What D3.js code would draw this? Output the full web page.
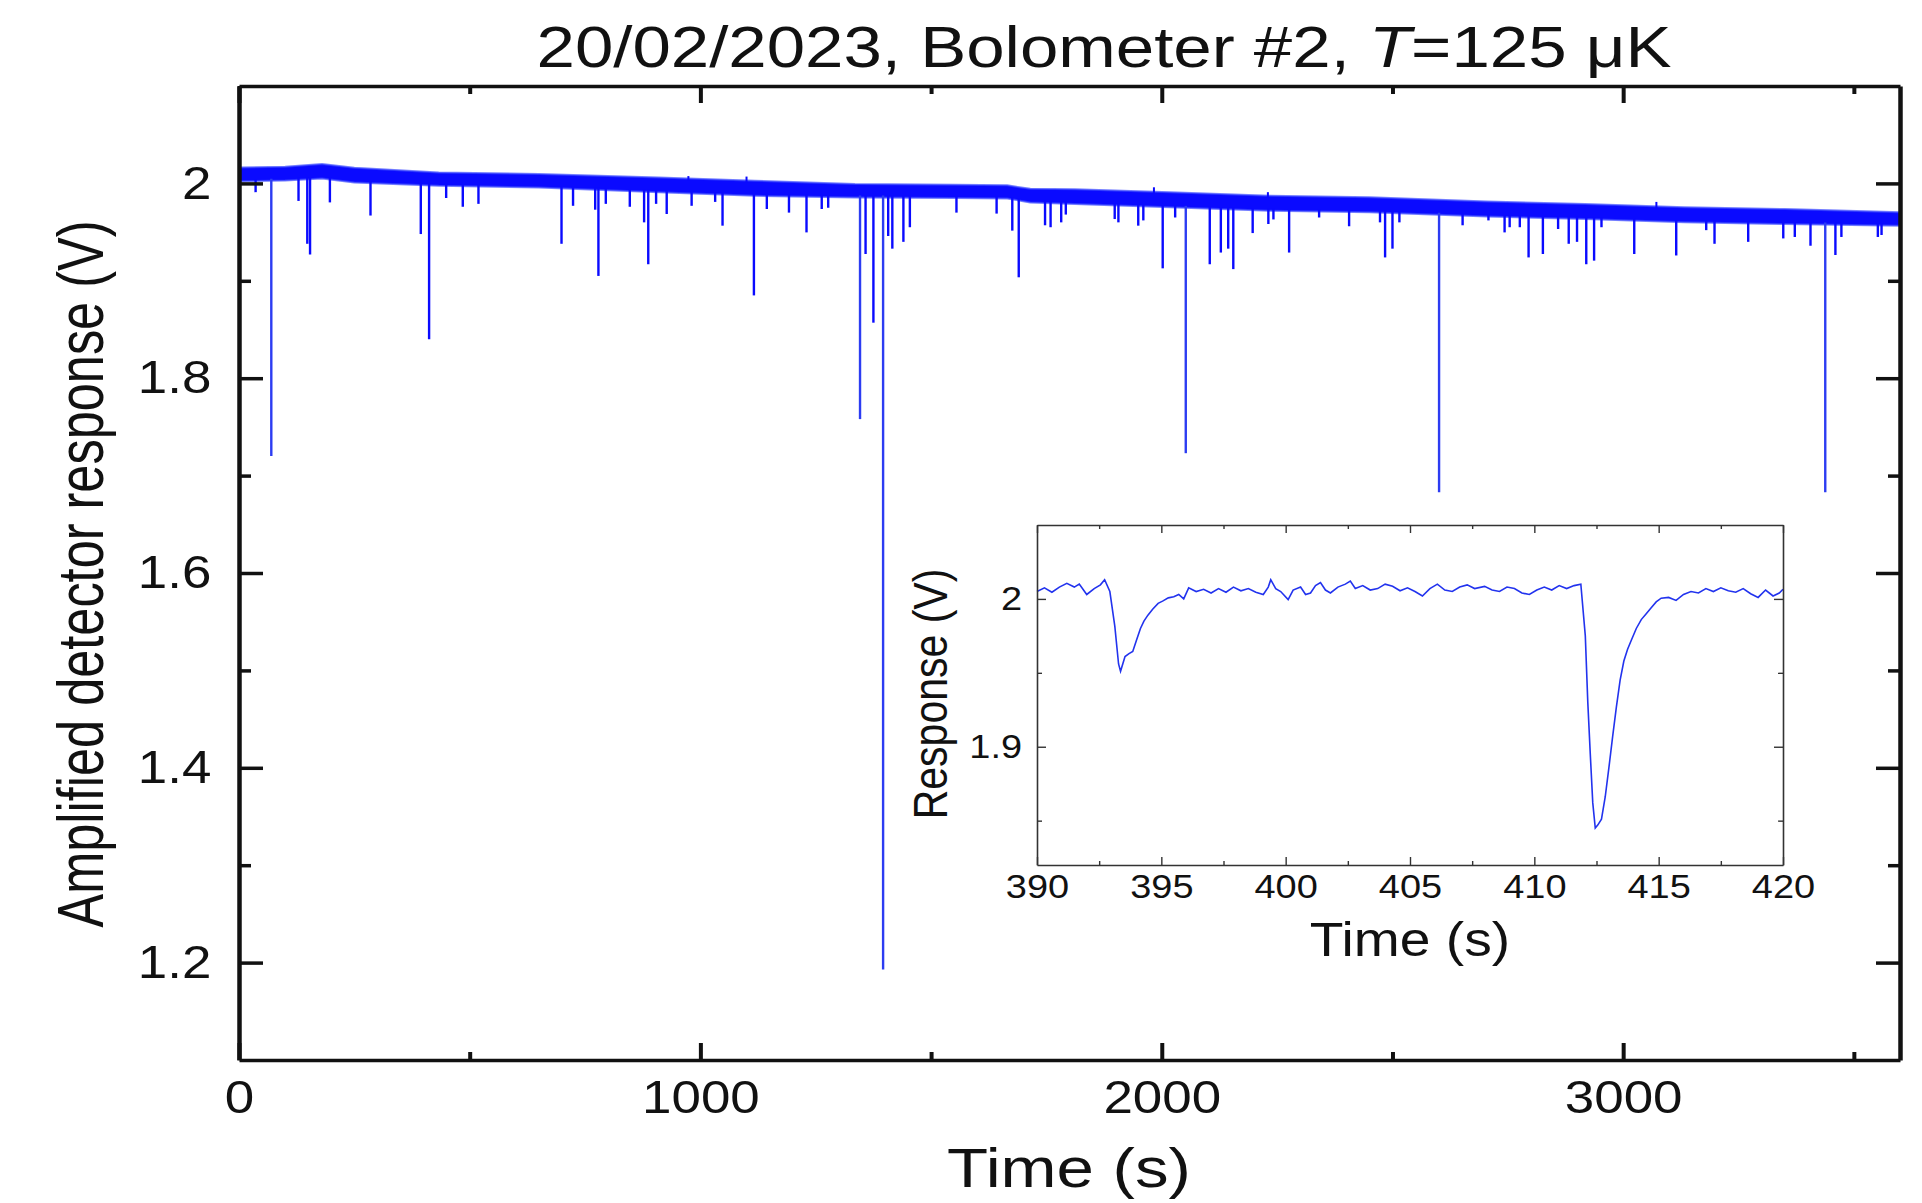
<!DOCTYPE html>
<html>
<head>
<meta charset="utf-8">
<script src="https://cdn.jsdelivr.net/npm/d3@7"></script>
<style>
  html, body { margin: 0; padding: 0; background: #fff; }
  svg { display: block; }
  text { font-family: "Liberation Sans", Arial, sans-serif; fill: #111; }
</style>
</head>
<body>
<svg id="chart" width="1922" height="1203"></svg>
<script>
// ---------------- DATA ----------------
// Main trace: envelope of the noisy baseline (time s, upper V, lower V)
const bandTime = [0, 100, 180, 250, 433, 650, 910, 1118, 1335, 1552, 1665, 1715, 1812, 2018, 2234, 2451, 2705, 2917, 3133, 3350, 3600];
const bandHigh = [2.0164, 2.0170, 2.0198, 2.0160, 2.0113, 2.0096, 2.0060, 2.0027, 1.9993, 1.9985, 1.9980, 1.9945, 1.9940, 1.9908, 1.9874, 1.9857, 1.9815, 1.9788, 1.9754, 1.9737, 1.9703];
const bandLow  = [2.0021, 2.0030, 2.0050, 2.0010, 1.9976, 1.9959, 1.9910, 1.9873, 1.9856, 1.9850, 1.9845, 1.9805, 1.9788, 1.9754, 1.9720, 1.9703, 1.9660, 1.9634, 1.9600, 1.9583, 1.9566];

// Downward spikes (time s, minimum V)
const spikeTime = [36, 70, 129, 148, 154, 197, 285, 394, 412, 449, 485, 519, 699, 724, 772, 779, 795, 847, 878, 887, 904,
  927, 981, 1032, 1048, 1116, 1144, 1192, 1230, 1263, 1277, 1346, 1358, 1375, 1396, 1407, 1416, 1440, 1454, 1555, 1642, 1676, 1690, 1747, 1759, 1782, 1792,
  1898, 1906, 1949, 1960, 2002, 2029, 2052, 2104, 2128, 2144, 2155, 2197, 2231, 2242, 2276, 2341, 2406, 2473, 2484, 2500, 2515, 2601, 2652, 2708,
  2743, 2754, 2776, 2795, 2826, 2859, 2882, 2900, 2920, 2937, 2953, 3024, 3115, 3180, 3198, 3271, 3347, 3372, 3406, 3438, 3460, 3473, 3552, 3560];
const spikeMin = [1.991, 1.720, 1.982, 1.938, 1.927, 1.9805, 1.967, 1.948, 1.840, 1.985, 1.976, 1.979, 1.938, 1.977, 1.973, 1.905, 1.979, 1.976, 1.960, 1.917, 1.979,
  1.9686, 1.977, 1.981, 1.9566, 1.885, 1.9737, 1.970, 1.9497, 1.9737, 1.975, 1.758, 1.9275, 1.857, 1.193, 1.946, 1.933, 1.940, 1.955, 1.970, 1.969, 1.9515, 1.9036, 1.957, 1.955, 1.960, 1.968,
  1.9634, 1.960, 1.9566, 1.962, 1.9128, 1.965, 1.723, 1.917, 1.929, 1.933, 1.912, 1.949, 1.9583, 1.963, 1.929, 1.965, 1.956, 1.960, 1.924, 1.933, 1.960, 1.683, 1.957, 1.962,
  1.9497, 1.955, 1.955, 1.924, 1.9275, 1.9532, 1.938, 1.940, 1.917, 1.9207, 1.955, 1.9275, 1.926, 1.952, 1.938, 1.940, 1.9435, 1.945, 1.936, 1.683, 1.9265, 1.945, 1.945, 1.947];

// Small upward excursions (time s, maximum V)
const upTime = [974, 1100, 1983, 2230, 3072];
const upMax  = [2.0075, 2.0070, 1.9960, 1.9910, 1.9810];

// Inset trace (time s, V)
const insetTime = [390.0, 390.3, 390.6, 390.9, 391.2, 391.5, 391.7, 392.0, 392.3, 392.55, 392.72, 392.93, 393.13, 393.28, 393.36, 393.54, 393.7, 393.85, 394.0, 394.16, 394.3, 394.46, 394.65, 394.87, 395.05, 395.28, 395.5, 395.7, 395.9, 396.1,
  396.4, 396.7, 397.0, 397.3, 397.6, 397.9, 398.2, 398.5, 398.8, 399.1, 399.3, 399.4, 399.6, 399.8, 400.1, 400.3, 400.6, 400.8, 401.0, 401.2, 401.4, 401.6, 401.8, 402.1, 402.4, 402.6, 402.8, 403.1, 403.4, 403.7,
  404.0, 404.3, 404.6, 404.9, 405.2, 405.5, 405.8, 406.1, 406.4, 406.7, 407.0, 407.3, 407.6, 408.0, 408.3, 408.6, 408.9, 409.2, 409.5, 409.8, 410.1, 410.4, 410.7, 411.0, 411.3, 411.6, 411.87,
  412.05, 412.15, 412.25, 412.35, 412.45, 412.55, 412.7, 412.85, 413.0, 413.15, 413.3, 413.45, 413.6, 413.75, 413.9, 414.1, 414.3, 414.5, 414.7, 414.9, 415.1,
  415.4, 415.7, 416.0, 416.3, 416.6, 416.9, 417.2, 417.5, 417.8, 418.1, 418.4, 418.7, 419.0, 419.3, 419.6, 419.85, 420.0];
const insetValue = [2.0050, 2.0075, 2.0045, 2.0080, 2.0105, 2.0080, 2.0100, 2.0030, 2.0070, 2.0095, 2.0130, 2.0050, 1.9814, 1.9560, 1.9510, 1.9610, 1.9630, 1.9645, 1.9720, 1.9800, 1.9850, 1.9890, 1.9930, 1.9970, 1.9985, 2.0007, 2.0015, 2.0030, 2.0000, 2.0075,
  2.0050, 2.0065, 2.0040, 2.0070, 2.0045, 2.0080, 2.0055, 2.0070, 2.0045, 2.0030, 2.0080, 2.0130, 2.0070, 2.0050, 1.9995, 2.0060, 2.0080, 2.0030, 2.0040, 2.0090, 2.0110, 2.0060, 2.0040, 2.0080, 2.0100, 2.0120, 2.0070, 2.0090, 2.0060, 2.0070,
  2.0100, 2.0085, 2.0055, 2.0075, 2.0050, 2.0020, 2.0070, 2.0100, 2.0060, 2.0050, 2.0080, 2.0095, 2.0070, 2.0085, 2.0060, 2.0050, 2.0080, 2.0070, 2.0040, 2.0030, 2.0060, 2.0080, 2.0060, 2.0090, 2.0070, 2.0090, 2.0100,
  1.9750, 1.9300, 1.8950, 1.8620, 1.8450, 1.8470, 1.8510, 1.8660, 1.8860, 1.9070, 1.9270, 1.9450, 1.9580, 1.9660, 1.9720, 1.9800, 1.9860, 1.9900, 1.9940, 1.9980, 2.0005,
  2.0010, 1.9990, 2.0030, 2.0050, 2.0040, 2.0070, 2.0050, 2.0075, 2.0055, 2.0045, 2.0070, 2.0035, 2.0010, 2.0060, 2.0020, 2.0040, 2.0065];

// Axis ticks and labels
const mainXMajor = [0, 1000, 2000, 3000];
const mainXMinor = [500, 1500, 2500, 3500];
const mainXLabels = ["0", "1000", "2000", "3000"];
const mainYMajor = [1.2, 1.4, 1.6, 1.8, 2.0];
const mainYMinor = [1.3, 1.5, 1.7, 1.9];
const mainYLabels = ["1.2", "1.4", "1.6", "1.8", "2"];
const insetXMajor = [390, 395, 400, 405, 410, 415, 420];
const insetXMinor = [392.5, 397.5, 402.5, 407.5, 412.5, 417.5];
const insetXLabels = ["390", "395", "400", "405", "410", "415", "420"];
const insetYMajor = [1.9, 2.0];
const insetYMinor = [1.85, 1.95];
const insetYLabels = ["1.9", "2"];

// ---------------- DRAW ----------------
const SX = 1.15; // horizontal text stretch of the original figure
const svg = d3.select("#chart");

const x = d3.scaleLinear().domain([0, 3600]).range([239, 1900]);
const y = d3.scaleLinear().domain([1.1, 2.1]).range([1060, 86]);

// Title
const title = svg.append("text")
  .attr("transform", `translate(1104,67) scale(1.19,1)`)
  .attr("text-anchor", "middle")
  .style("font-size", "58px");
title.append("tspan").text("20/02/2023, Bolometer #2, ");
title.append("tspan").style("font-style", "italic").text("T");
title.append("tspan").text("=125 μK");

// Data: band
const bandData = bandTime.map((t, i) => ({ t, hi: bandHigh[i], lo: bandLow[i] }));
const lowAt = d3.scaleLinear().domain(bandTime).range(bandLow);
const highAt = d3.scaleLinear().domain(bandTime).range(bandHigh);
const blue = "#0a0aff";

const plot = svg.append("g");
plot.append("path")
  .datum(bandData)
  .attr("d", d3.area().x(d => x(d.t)).y0(d => y(d.lo)).y1(d => y(d.hi)))
  .attr("fill", blue)
  .attr("stroke", "#3a48ff")
  .attr("stroke-opacity", 0.7)
  .attr("stroke-width", 2);

const spikes = spikeTime.map((t, i) => ({ t, v: spikeMin[i] }));
plot.selectAll("line.spike").data(spikes).enter().append("line")
  .attr("class", "spike")
  .attr("x1", d => x(d.t)).attr("x2", d => x(d.t))
  .attr("y1", d => y(lowAt(d.t)) - 2)
  .attr("y2", d => y(d.v))
  .attr("stroke", d => d.v < 1.8 ? "#2c3cf2" : blue)
  .attr("stroke-width", 2.4);

const ups = upTime.map((t, i) => ({ t, v: upMax[i] }));
plot.selectAll("line.up").data(ups).enter().append("line")
  .attr("x1", d => x(d.t)).attr("x2", d => x(d.t))
  .attr("y1", d => y(highAt(d.t)) + 2)
  .attr("y2", d => y(d.v))
  .attr("stroke", blue)
  .attr("stroke-width", 2);

// Main axes (frame)
function styleAxis(g, width) {
  g.select(".domain").attr("stroke", "#111").attr("stroke-width", width);
  g.selectAll(".tick line").attr("stroke", "#111");
}
const yl = d => mainYLabels[mainYMajor.indexOf(d)];
const xl = d => mainXLabels[mainXMajor.indexOf(d)];

// bottom
const gB = svg.append("g").attr("transform", "translate(0,1060)")
  .call(d3.axisBottom(x).tickValues(mainXMajor).tickFormat(xl).tickSizeInner(-17).tickSizeOuter(0).tickPadding(20));
styleAxis(gB, 3.5);
gB.selectAll(".tick line").attr("stroke-width", 4);
gB.selectAll(".tick text").attr("transform", `scale(${SX},1)`).style("font-size", "46px").attr("fill", "#111");
svg.append("g").attr("transform", "translate(0,1060)")
  .call(d3.axisBottom(x).tickValues(mainXMinor).tickFormat("").tickSizeInner(-8).tickSizeOuter(0))
  .call(g => { g.select(".domain").remove(); g.selectAll(".tick line").attr("stroke", "#111").attr("stroke-width", 4); });
// top
const gT = svg.append("g").attr("transform", "translate(0,86)")
  .call(d3.axisTop(x).tickValues(mainXMajor).tickFormat("").tickSizeInner(-17).tickSizeOuter(0));
styleAxis(gT, 3.5);
gT.selectAll(".tick line").attr("stroke-width", 4);
svg.append("g").attr("transform", "translate(0,86)")
  .call(d3.axisTop(x).tickValues(mainXMinor).tickFormat("").tickSizeInner(-8).tickSizeOuter(0))
  .call(g => { g.select(".domain").remove(); g.selectAll(".tick line").attr("stroke", "#111").attr("stroke-width", 4); });
// left
const gL = svg.append("g").attr("transform", "translate(239,0)")
  .call(d3.axisLeft(y).tickValues(mainYMajor).tickFormat(yl).tickSizeInner(-24).tickSizeOuter(0).tickPadding(24));
styleAxis(gL, 4.5);
gL.selectAll(".tick line").attr("stroke-width", 3.5);
gL.selectAll(".tick text").attr("transform", `scale(${SX},1)`).style("font-size", "46px").attr("fill", "#111");
svg.append("g").attr("transform", "translate(239,0)")
  .call(d3.axisLeft(y).tickValues(mainYMinor).tickFormat("").tickSizeInner(-12).tickSizeOuter(0))
  .call(g => { g.select(".domain").remove(); g.selectAll(".tick line").attr("stroke", "#111").attr("stroke-width", 3.5); });
// right
const gR = svg.append("g").attr("transform", "translate(1900,0)")
  .call(d3.axisRight(y).tickValues(mainYMajor).tickFormat("").tickSizeInner(-24).tickSizeOuter(0));
styleAxis(gR, 4.5);
gR.selectAll(".tick line").attr("stroke-width", 3.5);
svg.append("g").attr("transform", "translate(1900,0)")
  .call(d3.axisRight(y).tickValues(mainYMinor).tickFormat("").tickSizeInner(-12).tickSizeOuter(0))
  .call(g => { g.select(".domain").remove(); g.selectAll(".tick line").attr("stroke", "#111").attr("stroke-width", 3.5); });

// Axis titles
svg.append("text")
  .attr("transform", `translate(1069,1187) scale(1.2,1)`)
  .attr("text-anchor", "middle")
  .style("font-size", "56px")
  .text("Time (s)");
svg.append("text")
  .attr("transform", `translate(103,574) scale(${SX},1) rotate(-90)`)
  .attr("text-anchor", "middle")
  .attr("textLength", 707)
  .attr("lengthAdjust", "spacingAndGlyphs")
  .style("font-size", "56px")
  .text("Amplified detector response (V)");

// ---------------- INSET ----------------
const ix = d3.scaleLinear().domain([390, 420]).range([1037, 1783]);
const iy = d3.scaleLinear().domain([1.82, 2.05]).range([865, 525]);
const inset = svg.append("g");
inset.append("rect").attr("x", 1037).attr("y", 525).attr("width", 746).attr("height", 340).attr("fill", "#fff");

const insetData = insetTime.map((t, i) => ({ t, v: insetValue[i] }));
inset.append("path")
  .datum(insetData)
  .attr("d", d3.line().x(d => ix(d.t)).y(d => iy(d.v)))
  .attr("fill", "none")
  .attr("stroke", "#2233ee")
  .attr("stroke-width", 1.6);

const ixl = d => insetXLabels[insetXMajor.indexOf(d)];
const iyl = d => insetYLabels[insetYMajor.indexOf(d)];
function styleInset(g) {
  g.select(".domain").attr("stroke", "#333").attr("stroke-width", 1.6);
  g.selectAll(".tick line").attr("stroke", "#333").attr("stroke-width", 1.4);
}
const iB = inset.append("g").attr("transform", "translate(0,865)")
  .call(d3.axisBottom(ix).tickValues(insetXMajor).tickFormat(ixl).tickSizeInner(-8).tickSizeOuter(0).tickPadding(10));
styleInset(iB);
iB.selectAll(".tick text").attr("transform", `scale(${SX},1)`).style("font-size", "33px").attr("fill", "#111");
inset.append("g").attr("transform", "translate(0,865)")
  .call(d3.axisBottom(ix).tickValues(insetXMinor).tickFormat("").tickSizeInner(-4).tickSizeOuter(0))
  .call(g => { g.select(".domain").remove(); styleInset(g); });
const iT = inset.append("g").attr("transform", "translate(0,525)")
  .call(d3.axisTop(ix).tickValues(insetXMajor).tickFormat("").tickSizeInner(-8).tickSizeOuter(0));
styleInset(iT);
inset.append("g").attr("transform", "translate(0,525)")
  .call(d3.axisTop(ix).tickValues(insetXMinor).tickFormat("").tickSizeInner(-4).tickSizeOuter(0))
  .call(g => { g.select(".domain").remove(); styleInset(g); });
const iL = inset.append("g").attr("transform", "translate(1037,0)")
  .call(d3.axisLeft(iy).tickValues(insetYMajor).tickFormat(iyl).tickSizeInner(-9).tickSizeOuter(0).tickPadding(13));
styleInset(iL);
iL.selectAll(".tick text").attr("transform", `scale(${SX},1)`).style("font-size", "33px").attr("fill", "#111");
inset.append("g").attr("transform", "translate(1037,0)")
  .call(d3.axisLeft(iy).tickValues(insetYMinor).tickFormat("").tickSizeInner(-5).tickSizeOuter(0))
  .call(g => { g.select(".domain").remove(); styleInset(g); });
const iR = inset.append("g").attr("transform", "translate(1783,0)")
  .call(d3.axisRight(iy).tickValues(insetYMajor).tickFormat("").tickSizeInner(-9).tickSizeOuter(0));
styleInset(iR);
inset.append("g").attr("transform", "translate(1783,0)")
  .call(d3.axisRight(iy).tickValues(insetYMinor).tickFormat("").tickSizeInner(-5).tickSizeOuter(0))
  .call(g => { g.select(".domain").remove(); styleInset(g); });

inset.append("text")
  .attr("transform", `translate(1410,956) scale(${SX},1)`)
  .attr("text-anchor", "middle")
  .style("font-size", "48px")
  .text("Time (s)");
inset.append("text")
  .attr("transform", `translate(947,694) scale(${SX},1) rotate(-90)`)
  .attr("text-anchor", "middle")
  .style("font-size", "41px")
  .text("Response (V)");
</script>
</body>
</html>
